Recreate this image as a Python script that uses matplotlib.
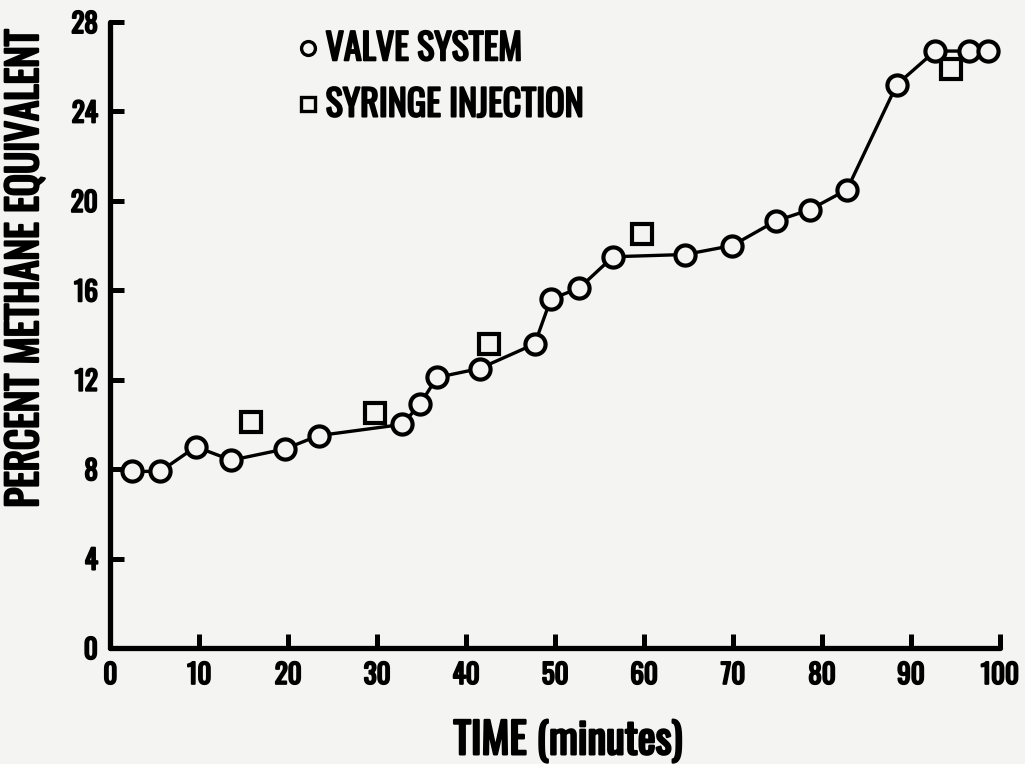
import matplotlib
matplotlib.use('Agg')
import matplotlib.pyplot as plt
import matplotlib.patheffects as pe
from matplotlib.lines import Line2D

# データ
valve_time = [2.4, 5.6, 9.6, 13.6, 19.6, 23.4, 32.8, 34.8, 36.7, 41.5, 47.7, 49.5,
              52.7, 56.5, 64.6, 69.9, 74.8, 78.6, 82.8, 88.4, 92.7, 96.5, 98.6]
valve_pct = [7.9, 7.9, 9.0, 8.4, 8.9, 9.5, 10.0, 10.9, 12.1, 12.5, 13.6, 15.6,
             16.1, 17.5, 17.6, 18.0, 19.1, 19.6, 20.5, 25.2, 26.7, 26.7, 26.7]

syringe_time = [15.8, 29.7, 42.6, 59.8, 94.5]
syringe_pct = [10.1, 10.5, 13.6, 18.5, 25.9]

x_ticks = [0, 10, 20, 30, 40, 50, 60, 70, 80, 90, 100]
y_ticks = [0, 4, 8, 12, 16, 20, 24, 28]

font = ['Oswald', 'Roboto Condensed', 'Archivo Narrow', 'PT Sans Narrow',
        'Liberation Sans Narrow', 'DejaVu Sans']
plt.rcParams['font.family'] = font
plt.rcParams['font.weight'] = 'bold'

bg = '#f4f4f2'
bold_small = [pe.withStroke(linewidth=1.4, foreground='black')]
bold_big = [pe.withStroke(linewidth=1.7, foreground='black')]

fig = plt.figure(figsize=(10.25, 7.64), dpi=100, facecolor=bg)
ax = fig.add_axes([110.4 / 1025, 116 / 764, 889.6 / 1025, 626 / 764])
ax.set_facecolor(bg)

ax.plot(valve_time, valve_pct, color='black', lw=2.4, marker='o', ms=14.5,
        mfc=bg, mec='black', mew=3.0, zorder=3)
ax.plot(syringe_time, syringe_pct, ls='none', marker='s', ms=14.5,
        mfc=bg, mec='black', mew=3.0, zorder=2)

ax.set_xlim(0, 100)
ax.set_ylim(0, 28)
ax.set_xticks(x_ticks)
ax.set_yticks(y_ticks)
ax.tick_params(direction='in', width=3.6, length=10, labelsize=19.5, pad=9,
               color='black')
ax.tick_params(axis='x', pad=10)
for lab in ax.get_xticklabels() + ax.get_yticklabels():
    lab.set_fontweight('bold')
    lab.set_path_effects(bold_small)

for side in ['top', 'right']:
    ax.spines[side].set_visible(False)
for side in ['left', 'bottom']:
    ax.spines[side].set_linewidth(3.8)
    ax.spines[side].set_capstyle('round')
ax.spines['bottom'].set_bounds(0, 100)

# 凡例
handles = [Line2D([], [], ls='none', marker='o', ms=10, mfc=bg, mec='black', mew=2.4),
           Line2D([], [], ls='none', marker='s', ms=10, mfc=bg, mec='black', mew=2.4)]
leg = ax.legend(handles, ['VALVE SYSTEM', 'SYRINGE INJECTION'], loc='upper left',
                bbox_to_anchor=(0.177, 1.037), frameon=False, handlelength=0.45,
                handletextpad=0.25, labelspacing=0.56,
                prop={'family': font, 'weight': 'bold', 'size': 26})
for t in leg.get_texts():
    t.set_path_effects(bold_small)

fig.text(25 / 1025, 1 - 268 / 764, 'PERCENT METHANE EQUIVALENT', rotation=90,
         ha='center', va='center', fontsize=29.5, fontweight='bold',
         path_effects=bold_big)
fig.text(568 / 1025, 1 - 741 / 764, 'TIME (minutes)', ha='center', va='center',
         fontsize=30.5, fontweight='bold', path_effects=bold_big)

fig.savefig('out.png', dpi=100, facecolor=bg)
